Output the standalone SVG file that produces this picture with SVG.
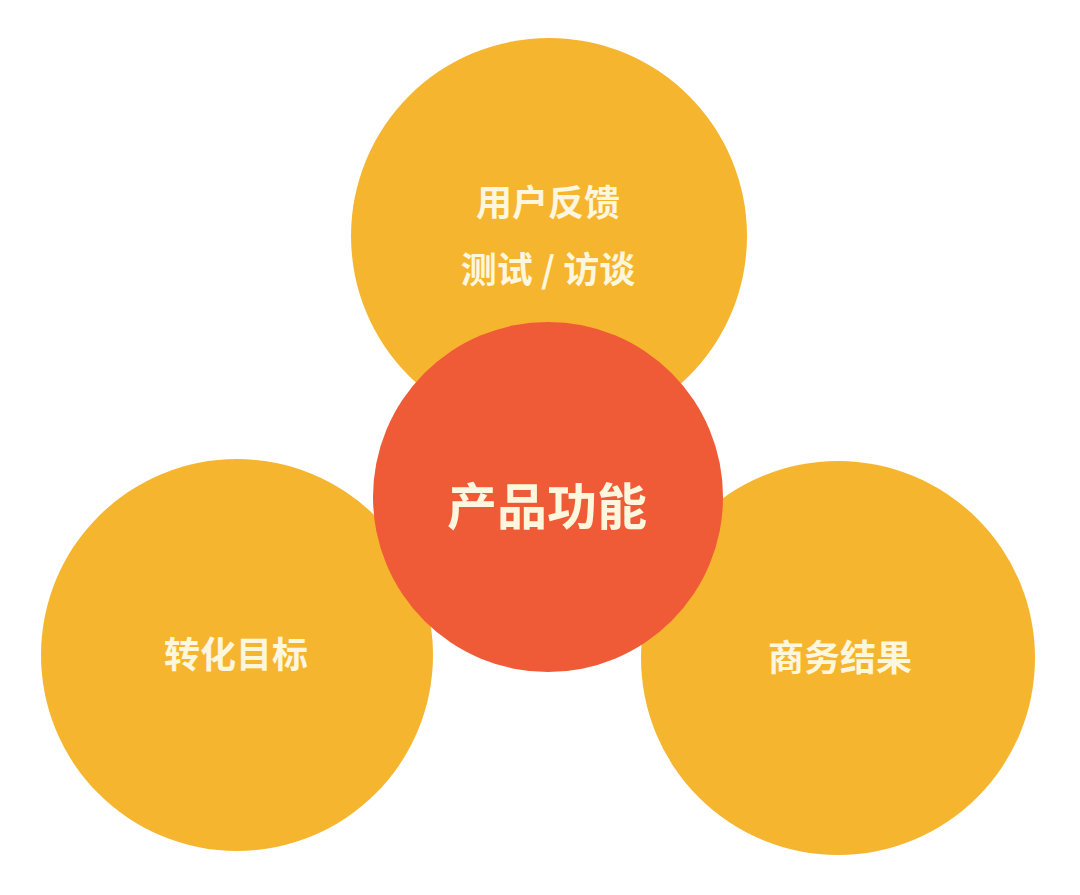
<svg xmlns="http://www.w3.org/2000/svg" width="1080" height="895" viewBox="0 0 1080 895">
<style>
.o{fill:#F6B52E}
.r{fill:#EF5B37}
.t{font-family:"Noto Sans CJK SC","Noto Sans",sans-serif;font-weight:bold;fill:#FFF6DE;text-anchor:middle}
.s{font-size:36px}
.b{font-size:50px}
</style>
<rect width="1080" height="895" fill="#FFFFFF"/>
<g id="connectors"></g>
<g id="node-top">
<circle class="o" cx="549" cy="236" r="198"/>
<text class="t s" x="548" y="216">用户反馈</text>
<text class="t s" x="548" y="283">测试 / 访谈</text>
</g>
<g id="node-left">
<circle class="o" cx="237" cy="655" r="196"/>
<text class="t s" x="236" y="668">转化目标</text>
</g>
<g id="node-right">
<circle class="o" cx="838" cy="658" r="197"/>
<text class="t s" x="840" y="671">商务结果</text>
</g>
<g id="node-center">
<circle class="r" cx="548" cy="497" r="175"/>
<text class="t b" x="547" y="525">产品功能</text>
</g>
</svg>
